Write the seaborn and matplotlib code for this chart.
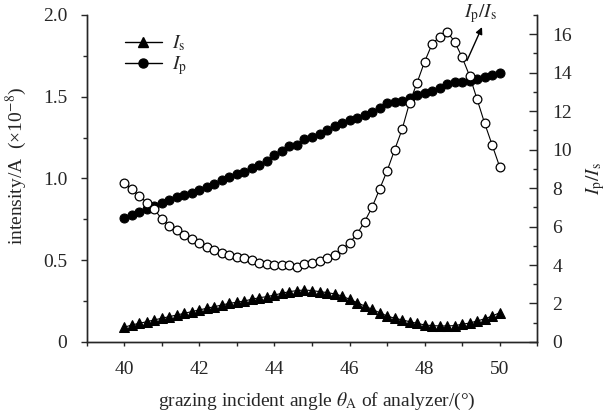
import numpy as np
import matplotlib
matplotlib.use("Agg")
import matplotlib.pyplot as plt
import seaborn as sns
from matplotlib.ticker import MultipleLocator, FixedLocator, FuncFormatter
from matplotlib.lines import Line2D

# data ---------------------------------------------------------------------------------
angle = np.round(np.arange(40.0, 50.01, 0.2), 1)

i_s = [0.090, 0.104, 0.114, 0.124, 0.135, 0.145, 0.155, 0.165, 0.175, 0.186,
       0.196, 0.206, 0.216, 0.226, 0.236, 0.243, 0.251, 0.261, 0.271, 0.277,
       0.287, 0.298, 0.308, 0.314, 0.318, 0.314, 0.308, 0.302, 0.294, 0.281,
       0.261, 0.241, 0.220, 0.200, 0.179, 0.159, 0.145, 0.135, 0.124, 0.114,
       0.104, 0.100, 0.098, 0.098, 0.100, 0.108, 0.116, 0.128, 0.142, 0.158,
       0.179]

i_p = [0.757, 0.777, 0.793, 0.811, 0.830, 0.848, 0.866, 0.886, 0.900, 0.914,
       0.931, 0.947, 0.965, 0.988, 1.010, 1.028, 1.042, 1.062, 1.082, 1.104,
       1.143, 1.165, 1.197, 1.206, 1.239, 1.256, 1.275, 1.297, 1.320, 1.337,
       1.357, 1.372, 1.388, 1.409, 1.434, 1.464, 1.470, 1.471, 1.490, 1.511,
       1.525, 1.537, 1.552, 1.575, 1.590, 1.592, 1.597, 1.610, 1.622, 1.633,
       1.643]

ratio = [8.28, 7.93, 7.59, 7.24, 6.90, 6.38, 6.05, 5.82, 5.56, 5.33,
         5.13, 4.92, 4.78, 4.64, 4.52, 4.43, 4.35, 4.26, 4.12, 4.05,
         4.02, 4.00, 4.00, 3.88, 4.05, 4.09, 4.23, 4.35, 4.52, 4.82,
         5.16, 5.61, 6.25, 7.00, 7.94, 8.89, 9.98, 11.05, 12.44, 13.48,
         14.57, 15.49, 15.87, 16.13, 15.61, 14.80, 13.83, 12.61, 11.37, 10.24,
         9.11]

# style ---------------------------------------------------------------------------------
sns.set_style("ticks")
plt.rcParams['font.family'] = ['Liberation Serif', 'DejaVu Serif']
plt.rcParams['mathtext.fontset'] = 'stix'
plt.rcParams['font.size'] = 14

fig, ax = plt.subplots(figsize=(6.07, 4.16), dpi=100)
fig.subplots_adjust(left=0.143, right=0.885, bottom=0.178, top=0.964)
ax2 = ax.twinx()

line_kw = dict(color='black', linewidth=0.8, markeredgecolor='black')
sns.lineplot(x=angle, y=i_s, ax=ax, marker='^', markersize=7, **line_kw)
sns.lineplot(x=angle, y=i_p, ax=ax, marker='o', markersize=6.5, **line_kw)
sns.lineplot(x=angle, y=ratio, ax=ax2, marker='o', markersize=6.3,
             markerfacecolor='white', markeredgewidth=0.9, **line_kw)

# axes ----------------------------------------------------------------------------------
ax.set_xlim(39, 51)
ax.set_ylim(0, 2.0)
ax2.set_ylim(0, 17)

ax.xaxis.set_major_locator(FixedLocator([40, 42, 44, 46, 48, 50]))
ax.xaxis.set_minor_locator(MultipleLocator(1))
ax.yaxis.set_major_locator(MultipleLocator(0.5))
ax.yaxis.set_minor_locator(MultipleLocator(0.25))
ax.yaxis.set_major_formatter(FuncFormatter(lambda v, p: '0' if v == 0 else '%.1f' % v))
ax2.yaxis.set_major_locator(MultipleLocator(2))
ax2.yaxis.set_minor_locator(MultipleLocator(1))

for a in (ax, ax2):
    a.spines['top'].set_visible(False)
    for s in a.spines.values():
        s.set_linewidth(1.0)
ax.tick_params(axis='x', which='both', direction='out', length=3, width=1, pad=11, labelsize=14)
ax.tick_params(axis='y', which='major', direction='out', length=4, width=1, pad=10, labelsize=14)
ax.tick_params(axis='y', which='minor', direction='out', length=3, width=1)
ax2.tick_params(axis='y', which='major', direction='in', length=5.5, width=1, pad=11, labelsize=14)
ax2.tick_params(axis='y', which='minor', direction='in', length=3, width=1)

ax.set_xlabel(r'grazing incident angle $\theta_\mathrm{A}$ of analyzer/(°)', fontsize=14)
ax.set_ylabel(r'intensity/A  (×10$^{-8}$)', fontsize=14)
ax2.set_ylabel(r'$I_\mathrm{p}/I_\mathrm{s}$', fontsize=14)
ax.xaxis.set_label_coords(0.51, -0.151)
ax.yaxis.set_label_coords(-0.128, 0.54)
ax2.yaxis.set_label_coords(1.104, 0.5)

# annotation pointing at the ratio curve
ax2.annotate('', xy=(49.56, 16.5), xytext=(49.1, 14.5),
             arrowprops=dict(arrowstyle='-|>', color='black', lw=1, mutation_scale=10))
ax2.text(49.5, 17.1, r'$I_\mathrm{p}/I_\mathrm{s}$', ha='center', va='center',
         fontsize=14, clip_on=False)

handles = [Line2D([], [], color='black', lw=1, marker='^', markersize=7),
           Line2D([], [], color='black', lw=1, marker='o', markersize=6.5)]
ax.legend(handles, [r'$I_\mathrm{s}$', r'$I_\mathrm{p}$'], loc='upper left',
          bbox_to_anchor=(0.046, 0.997), frameon=False, fontsize=14,
          handlelength=1.9, labelspacing=0.05, handletextpad=0.5)

plt.savefig('out.png', dpi=100)
